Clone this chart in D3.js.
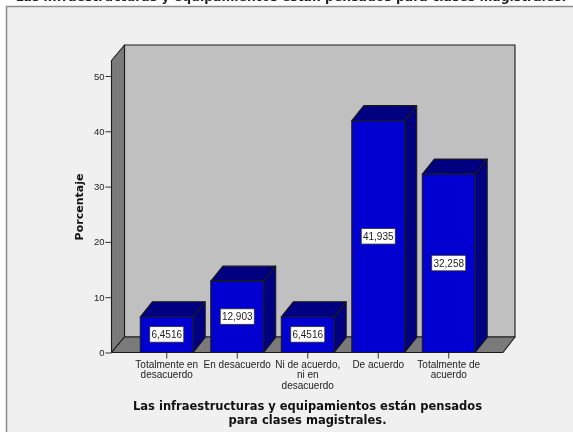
<!DOCTYPE html>
<html><head><meta charset="utf-8">
<script src="https://cdn.jsdelivr.net/npm/d3@7"></script>
<style>html,body{margin:0;padding:0;background:#fff}svg{display:block;filter:blur(0.5px)}</style>
</head><body><svg id="c" width="573" height="432"></svg>
<script>
const categories = [["Totalmente en","desacuerdo"],["En desacuerdo"],["Ni de acuerdo,","ni en","desacuerdo"],["De acuerdo"],["Totalmente de","acuerdo"]];
const values = [6.4516,12.903,6.4516,41.935,32.258];
const valueLabels = ["6,4516","12,903","6,4516","41,935","32,258"];
const yTicks = [0,10,20,30,40,50];
const yTitle = "Porcentaje";
const xTitle = ["Las infraestructuras y equipamientos están pensados","para clases magistrales."];
const topTitle = "Las infraestructuras y equipamientos están pensados para clases magistrales.";

const svg = d3.select("#c");
const y = d3.scaleLinear().domain([0,50]).range([352.5,76]);
const x = d3.scaleBand().domain(d3.range(categories.length)).range([131.5,484]).paddingInner(0.25).paddingOuter(0.125);
const poly = (pts,fill,sw=1.1)=>svg.append("polygon").attr("points",pts.map(p=>p.join(",")).join(" ")).attr("fill",fill).attr("stroke","#1a1a1a").attr("stroke-width",sw).attr("stroke-linejoin","round");

// page
svg.append("rect").attr("x",6.5).attr("y",6.5).attr("width",580).attr("height",440).attr("fill","#f0f0f0").attr("stroke","#8c8c8c").attr("stroke-width",1.5);
svg.append("text").attr("x",291).attr("y",1).attr("text-anchor","middle").attr("font-family","DejaVu Sans").attr("font-weight","bold").attr("font-size",12.4).attr("fill","#222").text(topTitle);

// 3D box
const L=111.5,R=503,B=y(0),DX=13,DY=15.5,T=45;
poly([[L+DX,T],[R+12,T],[R+12,B-DY],[L+DX,B-DY]],"#c0c0c0");
poly([[L,T+DY],[L+DX,T],[L+DX,B-DY],[L,B]],"#7a7a7a");
poly([[L,B],[L+DX,B-DY],[R+12,B-DY],[R,B]],"#7a7a7a");

// y axis
const yAxis = d3.axisLeft(y).tickValues(yTicks).tickSize(6).tickPadding(1).tickFormat(d3.format("d"));
const ga = svg.append("g").attr("transform",`translate(${L},0)`).call(yAxis);
ga.select(".domain").remove();
ga.selectAll("line").attr("stroke","#333");
ga.selectAll("text").attr("font-family","Liberation Sans").attr("font-size",9.5).attr("fill","#222");

// x axis
const xc = i=>x(i)+x.bandwidth()/2;
categories.forEach((c,i)=>{
  svg.append("line").attr("x1",xc(i)).attr("x2",xc(i)).attr("y1",B).attr("y2",B+6).attr("stroke","#333");
  const t = svg.append("text").attr("text-anchor","middle").attr("font-family","Liberation Sans").attr("font-size",10).attr("fill","#222");
  c.forEach((s,j)=>t.append("tspan").attr("x",xc(i)).attr("y",368+j*10.4).text(s));
});

// bars
const bdx=12,bdy=15;
values.forEach((v,i)=>{
  const a=x(i),b=a+x.bandwidth(),t=y(v);
  poly([[a,t],[a+bdx,t-bdy],[b+bdx,t-bdy],[b,t]],"#000080");
  poly([[b,t],[b+bdx,t-bdy],[b+bdx,B-bdy],[b,B]],"#000080");
  poly([[a,t],[b,t],[b,B],[a,B]],"#0000d0");
  const cy=(t+B)/2;
  svg.append("rect").attr("x",xc(i)-17).attr("y",cy-8).attr("width",34).attr("height",15.5).attr("fill","#fff").attr("stroke","#333").attr("stroke-width",0.8);
  svg.append("text").attr("x",xc(i)).attr("y",cy+3.4).attr("text-anchor","middle").attr("font-family","Liberation Sans").attr("font-size",10).attr("fill","#222").text(valueLabels[i]);
});

// titles
svg.append("text").attr("transform","translate(83,207) rotate(-90)").attr("text-anchor","middle").attr("font-family","DejaVu Sans").attr("font-weight","bold").attr("font-size",11).attr("fill","#111").text(yTitle);
xTitle.forEach((s,j)=>svg.append("text").attr("x",307.5).attr("y",410+j*14).attr("text-anchor","middle").attr("font-family","DejaVu Sans").attr("font-weight","bold").attr("font-size",11.5).attr("fill","#111").text(s));
</script></body></html>
